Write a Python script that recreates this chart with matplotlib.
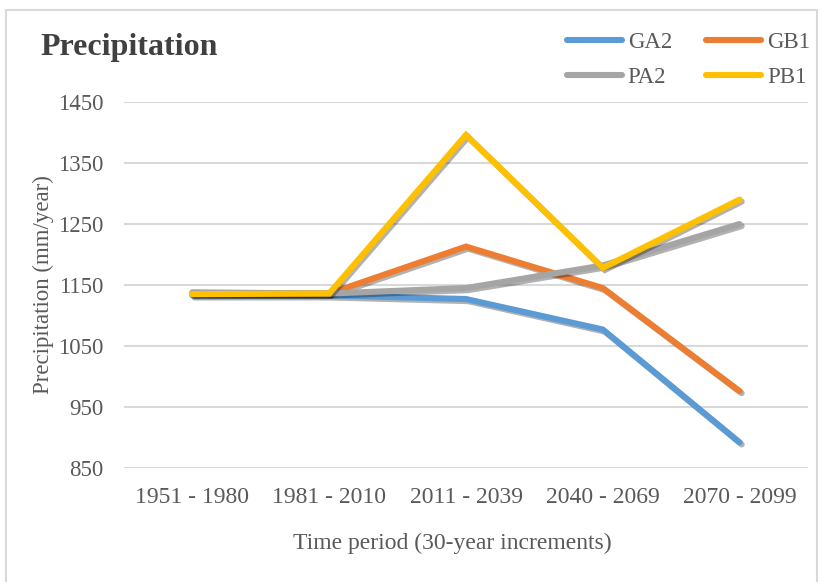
import numpy as np
import matplotlib
matplotlib.use('Agg')
import matplotlib.pyplot as plt
import matplotlib.patheffects as pe
from matplotlib.patches import Rectangle

plt.rcParams['font.family'] = ['Liberation Serif', 'DejaVu Serif']

periods = ['1951 - 1980', '1981 - 2010', '2011 - 2039', '2040 - 2069', '2070 - 2099']
ga2 = [1133, 1133, 1127, 1077, 892]
gb1 = [1136, 1136, 1213, 1145, 976]
pa2 = [1138, 1136, 1145, 1182, 1250]
pb1 = [1135, 1136, 1396, 1178, 1290]

series = [('GA2', ga2, '#5b9bd5'), ('GB1', gb1, '#ed7d31'),
          ('PA2', pa2, '#a5a5a5'), ('PB1', pb1, '#ffc000')]

txt = '#595959'
W, H = 822, 582
fig = plt.figure(figsize=(8.22, 5.82), dpi=100)
# chart area border
fig.patches.append(Rectangle((6 / W, -0.01), 811 / W, 1.0 - 10 / H + 0.01,
                             transform=fig.transFigure, fill=False,
                             edgecolor='#d9d9d9', linewidth=1.5))
ax = fig.add_axes([124 / W, 1 - 468 / H, 684 / W, 366 / H])

x = np.arange(len(periods))
shadow = [pe.SimpleLineShadow(offset=(1.5, -1.5), shadow_color='k', alpha=0.3), pe.Normal()]
lines = {}
for name, vals, col in series:
    lines[name], = ax.plot(x, vals, color=col, lw=4.4, label=name, solid_capstyle='round',
                           solid_joinstyle='miter', path_effects=shadow)

ax.set_xlim(-0.5, 4.5)
ax.set_ylim(850, 1450)
ax.set_yticks(np.arange(850, 1451, 100))
ax.set_xticks(x)
ax.set_xticklabels(periods)
ax.grid(axis='y', color='#d9d9d9', lw=1.5)
ax.set_axisbelow(True)
for s in ax.spines.values():
    s.set_visible(False)
ax.tick_params(length=0, colors=txt)
ax.tick_params(axis='y', pad=15, labelsize=16.5)
ax.tick_params(axis='x', pad=14, labelsize=17)

ax.set_xlabel('Time period (30-year increments)', fontsize=17, color=txt)
ax.xaxis.set_label_coords((452 - 124) / 684, -0.2)
ax.xaxis.label.set_va('center')
ax.xaxis.set_label_coords((452 - 124) / 684, -(543 - 468) / 366)
ax.set_ylabel('Precipitation (mm/year)', fontsize=16.5, color=txt)
ax.yaxis.label.set_va('center')
ax.yaxis.set_label_coords((43 - 124) / 684, 0.5)

fig.text(40 / W, 1 - 47 / H, 'Precipitation', fontsize=23, fontweight='bold', color='#404040',
         va='center', ha='left')

order = ['GA2', 'PA2', 'GB1', 'PB1']
leg = fig.legend([lines[n] for n in order], order, ncol=2, loc='upper left',
                 bbox_to_anchor=(567 / W, 1 - 32 / H), frameon=False, borderpad=0,
                 borderaxespad=0, fontsize=16.5, handlelength=2.4, handletextpad=0.25,
                 columnspacing=1.5, labelspacing=0.62, labelcolor=txt)
for h in leg.get_lines():
    h.set_linewidth(4.4)
    h.set_path_effects([])

fig.savefig('out.png', dpi=100)
